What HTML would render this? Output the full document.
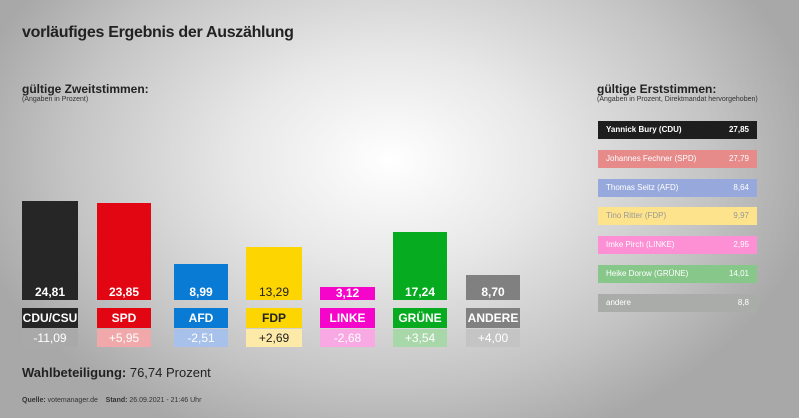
<!DOCTYPE html>
<html><head><meta charset="utf-8"><style>
body{margin:0;width:799px;height:418px;overflow:hidden;font-family:"Liberation Sans",sans-serif;}
#c{position:relative;width:799px;height:418px;background:radial-gradient(ellipse 430px 300px at 390px 160px,#ffffff 0%,#e8e8e8 35%,#c4c4c4 75%,#a8a8a8 100%);}
.a{position:absolute;}
.bar{position:absolute;bottom:118px;color:#fff;font-weight:bold;font-size:12px;text-align:center;box-sizing:border-box;display:flex;align-items:flex-end;justify-content:center;padding-bottom:1px;}
.lab{position:absolute;top:308px;height:20px;line-height:20px;color:#fff;font-weight:bold;font-size:12px;text-align:center;}
.dif{position:absolute;top:329px;height:18px;line-height:18px;color:#fff;font-size:12px;text-align:center;}
.box{position:absolute;left:598px;width:159px;height:18px;line-height:18px;font-size:8px;color:#fff;box-sizing:border-box;padding:0 8px;display:flex;justify-content:space-between;}
</style></head><body><div id="c">
<div class="a" style="left:22px;top:24px;font-size:16px;color:#222;font-weight:bold;letter-spacing:-0.3px;">vorläufiges Ergebnis der Auszählung</div>
<div class="a" style="left:22px;top:82px;font-size:12px;color:#222;font-weight:bold;">gültige Zweitstimmen:</div>
<div class="a" style="left:22px;top:96px;font-size:7px;color:#333;">(Angaben in Prozent)</div>

<div class="bar" style="left:22px;width:56px;height:99px;background:#262626;">24,81</div>
<div class="bar" style="left:97px;width:54px;height:97px;background:#e20613;">23,85</div>
<div class="bar" style="left:174px;width:54px;height:36px;background:#0a7bd4;">8,99</div>
<div class="bar" style="left:246px;width:56px;height:53px;background:#fdd500;color:#222;font-weight:normal;">13,29</div>
<div class="bar" style="left:320px;width:55px;height:13px;background:#f505c9;line-height:12px;">3,12</div>
<div class="bar" style="left:393px;width:54px;height:68px;background:#07ab20;">17,24</div>
<div class="bar" style="left:466px;width:54px;height:25px;background:#808080;">8,70</div>

<div class="lab" style="left:22px;width:56px;background:#262626;">CDU/CSU</div>
<div class="lab" style="left:97px;width:54px;background:#e20613;">SPD</div>
<div class="lab" style="left:174px;width:54px;background:#0a7bd4;">AFD</div>
<div class="lab" style="left:246px;width:56px;background:#fdd500;color:#222;">FDP</div>
<div class="lab" style="left:320px;width:55px;background:#f505c9;">LINKE</div>
<div class="lab" style="left:393px;width:54px;background:#07ab20;">GRÜNE</div>
<div class="lab" style="left:466px;width:54px;background:#808080;">ANDERE</div>

<div class="dif" style="left:22px;width:56px;background:#a9a9a9;">-11,09</div>
<div class="dif" style="left:97px;width:54px;background:#f0a8aa;">+5,95</div>
<div class="dif" style="left:174px;width:54px;background:#a7c1ea;">-2,51</div>
<div class="dif" style="left:246px;width:56px;background:#fde9a8;color:#222;">+2,69</div>
<div class="dif" style="left:320px;width:55px;background:#f8a9e4;">-2,68</div>
<div class="dif" style="left:393px;width:54px;background:#a8d8aa;">+3,54</div>
<div class="dif" style="left:466px;width:54px;background:#c4c4c4;">+4,00</div>

<div class="a" style="left:22px;top:365px;font-size:13px;color:#222;"><b>Wahlbeteiligung:</b> 76,74 Prozent</div>
<div class="a" style="left:22px;top:397px;font-size:7px;color:#333;"><b>Quelle:</b> votemanager.de &nbsp;&nbsp;&nbsp;<b>Stand:</b> 26.09.2021 - 21:46 Uhr</div>

<div class="a" style="left:597px;top:82px;font-size:12px;color:#222;font-weight:bold;">gültige Erststimmen:</div>
<div class="a" style="left:597px;top:96px;font-size:7px;color:#333;">(Angaben in Prozent, Direktmandat hervorgehoben)</div>
<div class="box" style="top:121px;background:#1e1e1e;font-weight:bold;"><span>Yannick Bury (CDU)</span><span>27,85</span></div>
<div class="box" style="top:150px;background:#e78a8a;"><span>Johannes Fechner (SPD)</span><span>27,79</span></div>
<div class="box" style="top:179px;background:#97a9dc;"><span>Thomas Seitz (AFD)</span><span>8,64</span></div>
<div class="box" style="top:207px;background:#fde38c;color:#999;"><span>Tino Ritter (FDP)</span><span>9,97</span></div>
<div class="box" style="top:236px;background:#fd8fd4;"><span>Imke Pirch (LINKE)</span><span>2,95</span></div>
<div class="box" style="top:265px;background:#87c78a;"><span>Heike Dorow (GRÜNE)</span><span>14,01</span></div>
<div class="box" style="top:294px;background:#a9aca9;"><span>andere</span><span>8,8</span></div>
</div></body></html>
